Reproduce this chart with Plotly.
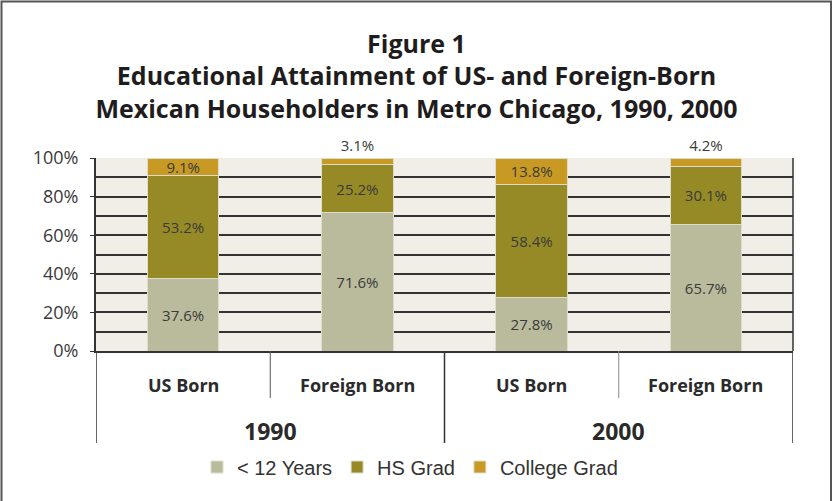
import plotly.graph_objects as go

# Data
CATEGORIES = ['1990 US Born', '1990 Foreign Born', '2000 US Born', '2000 Foreign Born']
SUB_LABELS = ['US Born', 'Foreign Born', 'US Born', 'Foreign Born']
YEARS = ['1990', '2000']
LESS_12 = [37.6, 71.6, 27.8, 65.7]
HS_GRAD = [53.2, 25.2, 58.4, 30.1]
COLLEGE = [9.1, 3.1, 13.8, 4.2]

C_LESS = '#b9bb9c'
C_HS = '#968a27'
C_COL = '#c89a23'
BG = '#f1eee8'
TXT = '#3a3a3a'
LINE = '#333333'

W, H = 833, 501
ML, MR, MT, MB = 96, 40, 158, 150
PW, PH = W - ML - MR, H - MT - MB


def px_x(x):
    return (x - ML) / PW


def px_y(y):
    return (H - MB - y) / PH


num_font = dict(family='Open Sans, sans-serif', size=15, color=TXT)

fig = go.Figure()
for name, vals, col, pos in [
    ('< 12 Years', LESS_12, C_LESS, 'inside'),
    ('HS Grad', HS_GRAD, C_HS, 'inside'),
    ('College Grad', COLLEGE, C_COL, ['inside', 'outside', 'inside', 'outside']),
]:
    fig.add_trace(go.Bar(
        x=CATEGORIES, y=vals, name=name,
        marker=dict(color=col, line=dict(color='#dedccb', width=1)),
        text=[f'{v:.1f}%' for v in vals],
        textposition=pos,
        insidetextanchor='middle',
        textangle=0,
        textfont=num_font,
        constraintext='none',
        cliponaxis=False,
        width=0.41,
    ))

shapes = []
# outer frame
shapes.append(dict(type='rect', xref='paper', yref='paper',
                   x0=px_x(1.5), x1=px_x(831), y0=px_y(520), y1=px_y(1.5),
                   line=dict(color='#555555', width=2), layer='above'))
# category dividers below the axis
for xv, y_end, col, wd in [(-0.5, 443, LINE, 1.5), (0.5, 398, '#555555', 1),
                           (1.5, 443, LINE, 1.5), (2.5, 398, '#888888', 1),
                           (3.5, 443, LINE, 1.5)]:
    shapes.append(dict(type='line', xref='x', yref='paper',
                       x0=xv, x1=xv, y0=0, y1=px_y(y_end),
                       line=dict(color=col, width=wd)))
# right border of plot area
shapes.append(dict(type='line', xref='paper', yref='paper', x0=1, x1=1, y0=0, y1=1,
                   line=dict(color=LINE, width=1.5)))

annotations = []
for i, lab in enumerate(SUB_LABELS):
    annotations.append(dict(x=i, y=px_y(385), xref='x', yref='paper', text=f'<b>{lab}</b>',
                            showarrow=False, yanchor='middle',
                            font=dict(family='Open Sans, sans-serif', size=18, color='#2a2a2a')))
for j, yr in enumerate(YEARS):
    annotations.append(dict(x=0.5 + 2 * j, y=px_y(431), xref='x', yref='paper', text=f'<b>{yr}</b>',
                            showarrow=False, yanchor='middle',
                            font=dict(family='Open Sans, sans-serif', size=23, color='#2a2a2a')))

fig.update_layout(
    width=W, height=H,
    margin=dict(l=ML, r=MR, t=MT, b=MB),
    paper_bgcolor='white', plot_bgcolor=BG,
    barmode='stack', bargap=0.59,
    title=dict(text='<b>Figure 1<br>Educational Attainment of US- and Foreign-Born<br>'
                    'Mexican Householders in Metro Chicago, 1990, 2000</b>',
               x=0.5, xanchor='center', y=0.895, yanchor='top',
               font=dict(family='Open Sans, sans-serif', size=25, color='#1f1c1d')),
    xaxis=dict(type='category', showticklabels=False, showgrid=False, ticks='',
               showline=True, linecolor=LINE, linewidth=2, range=[-0.5, 3.5]),
    yaxis=dict(range=[0, 100.02], showgrid=True, gridcolor=LINE, gridwidth=2,
               tickvals=[0, 20, 40, 60, 80, 100], ticktext=['0%', '20%', '40%', '60%', '80%', '100%'],
               ticks='outside', ticklen=4, tickcolor=LINE, showline=True, linecolor=LINE, linewidth=2,
               ticklabelstandoff=8,
               tickfont=dict(family='Open Sans, sans-serif', size=18, color=TXT), zeroline=False),
    legend=dict(orientation='h', x=px_x(410), xanchor='center', y=px_y(467), yanchor='middle',
                font=dict(family='Liberation Sans, Arial, sans-serif', size=20, color='#333333'),
                itemwidth=30, traceorder='normal'),
    uniformtext=dict(minsize=15, mode='show'),
    shapes=shapes, annotations=annotations,
)
# minor gridlines every 10%
fig.update_yaxes(minor=dict(dtick=10, showgrid=True, gridcolor=LINE, gridwidth=2, tick0=0))

fig.write_html('out.html', config={'displayModeBar': False},
               post_script="document.body.style.margin='0';")
